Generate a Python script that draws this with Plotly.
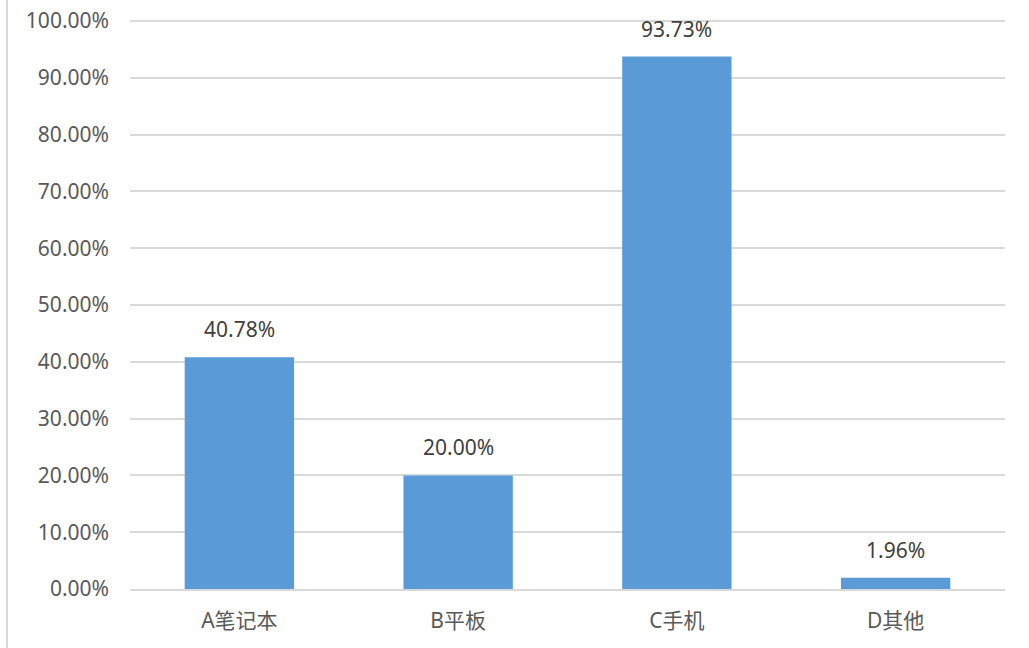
import plotly.graph_objects as go

categories = ["A笔记本", "B平板", "C手机", "D其他"]
values = [0.4078, 0.2000, 0.9373, 0.0196]
y_ticks = [0, 0.1, 0.2, 0.3, 0.4, 0.5, 0.6, 0.7, 0.8, 0.9, 1.0]

FONT = "Noto Sans, Noto Sans CJK SC, sans-serif"

fig = go.Figure()
fig.add_trace(go.Bar(
    x=categories,
    y=values,
    marker=dict(color="#5a9bd7", line=dict(width=0)),
    hoverinfo="skip",
))

for c, v in zip(categories, values):
    fig.add_annotation(
        x=c, y=v, text=f"{v*100:.2f}%", showarrow=False,
        yanchor="bottom", yshift=12,
        font=dict(family=FONT, size=21, color="#404040"),
    )

# left frame line of the chart area
fig.add_shape(type="line", xref="paper", yref="paper",
              x0=-123 / 875, x1=-123 / 875, y0=-0.2, y1=1.2,
              line=dict(color="#d9d9d9", width=2))

fig.update_layout(
    width=1029, height=648,
    margin=dict(l=130, r=24, t=19, b=59, autoexpand=False),
    paper_bgcolor="white", plot_bgcolor="white",
    bargap=0.5,
    showlegend=False,
    font=dict(family=FONT, size=21, color="#595959"),
)
fig.update_xaxes(
    showgrid=False, showline=True, linecolor="#d9d9d9", linewidth=1.5,
    ticks="", ticklabelstandoff=12, automargin=False,
    tickfont=dict(family=FONT, size=21, color="#595959"),
)
fig.update_yaxes(
    range=[0, 1.0035], tickvals=y_ticks, tickformat=".2%",
    showgrid=True, gridcolor="#d9d9d9", gridwidth=1.5,
    zeroline=False, showline=False, ticks="",
    ticklabelstandoff=20, automargin=False,
    tickfont=dict(family=FONT, size=21, color="#595959"),
)

fig.write_html("out.html", config={"displayModeBar": False},
               post_script="document.body.style.margin='0';")
